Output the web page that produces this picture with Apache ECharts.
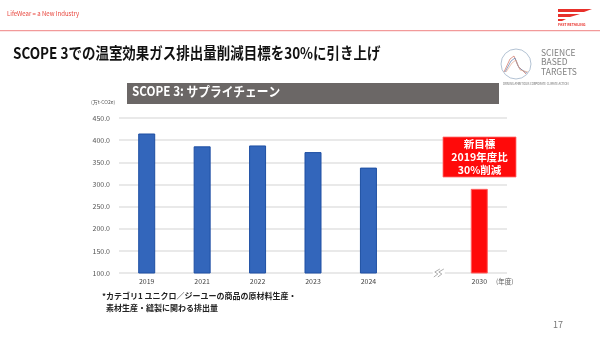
<!DOCTYPE html>
<html><head><meta charset="utf-8">
<script src="https://cdn.jsdelivr.net/npm/echarts@6/dist/echarts.min.js"></script>
<style>html,body{margin:0;padding:0;background:#fff}#c{width:600px;height:341px}</style>
</head><body><div id="c"></div>
<script>
const categories = ['2019','2021','2022','2023','2024','','2030'];
const actualValues = [415, 386, 388, 373, 338, null, null];
const targetValues = [null, null, null, null, null, null, 290];
const yTicks = [100, 450, 50];
const FONT = '"Noto Sans CJK JP","Noto Sans",sans-serif';

const chart = echarts.init(document.getElementById('c'), null, {renderer:'canvas'});
chart.setOption({
  animation:false,
  backgroundColor:'#fff',
  grid:{left:119, right:93, top:118, bottom:68},
  xAxis:{type:'category', data:categories,
    axisLine:{show:false}, axisTick:{show:false},
    axisLabel:{fontSize:7, color:'#444', margin:5, fontFamily:FONT}},
  yAxis:{type:'value', min:yTicks[0], max:yTicks[1], interval:yTicks[2],
    axisLine:{show:false}, axisTick:{show:false},
    splitLine:{lineStyle:{color:'#e2e2e2', width:1.5}},
    axisLabel:{fontSize:7, color:'#555', margin:9, fontFamily:FONT,
      formatter:v=>v.toFixed(1)}},
  series:[
    {type:'bar', data:actualValues, barWidth:17, barGap:'-100%',
      itemStyle:{color:'#3366bb', borderColor:'#1e4fa3', borderWidth:1}},
    {type:'bar', data:targetValues, barWidth:17,
      itemStyle:{color:'#ff0a0a', borderColor:'#ff6060', borderWidth:1}}
  ]
});
// axis break mark placed between the empty slot and 2030 using the library's scale
const p5 = chart.convertToPixel({gridIndex:0}, [5, yTicks[0]]);
const p6 = chart.convertToPixel({gridIndex:0}, [6, yTicks[0]]);
const bx = p5[0] + (p6[0]-p5[0])*0.27, by = p5[1];

chart.setOption({graphic:[
  {type:'text', left:7, top:11, style:{text:'LifeWear = a New Industry', fill:'#e8453c', font:'6px '+FONT}},
  {type:'rect', shape:{x:0,y:30,width:600,height:1.2}, style:{fill:'#f29a9a'}},
  {type:'polygon', shape:{points:[[558,9],[592,9],[584,12],[558,12]]}, style:{fill:'#e8302a'}},
  {type:'polygon', shape:{points:[[558,14],[580,14],[570,17],[558,17]]}, style:{fill:'#e8302a'}},
  {type:'polygon', shape:{points:[[558,19],[566,19],[562,21],[558,21]]}, style:{fill:'#e8302a'}},
  {type:'text', left:558, top:23, style:{text:'FAST RETAILING', fill:'#e8302a', font:'bold 3.5px '+FONT}},
  {type:'text', x:13, y:45, scaleX:0.87, style:{text:'SCOPE 3での温室効果ガス排出量削減目標を30%に引き上げ', fill:'#111', font:'bold 15.5px '+FONT}},
  {type:'circle', shape:{cx:516,cy:64,r:15}, style:{fill:'none', stroke:'#9fb3c8', lineWidth:0.8}},
  {type:'polyline', shape:{points:[[504,72],[510,59],[514,56],[518,66],[526,74]]}, style:{stroke:'#d07060', fill:'none', lineWidth:0.7}},
  {type:'polyline', shape:{points:[[505,72],[511,61],[515,58],[519,68],[527,73]]}, style:{stroke:'#6080b0', fill:'none', lineWidth:0.7}},
  {type:'polyline', shape:{points:[[506,72],[512,63],[516,60],[520,70],[528,72]]}, style:{stroke:'#e0a080', fill:'none', lineWidth:0.6}},
  {type:'text', left:541, top:48, style:{text:'SCIENCE\nBASED\nTARGETS', fill:'#808080', font:'8.5px '+FONT, lineHeight:9.5}},
  {type:'text', left:503, top:83, style:{text:'DRIVING AMBITIOUS CORPORATE CLIMATE ACTION', fill:'#666', font:'2.8px '+FONT}},
  {type:'rect', shape:{x:127,y:83,width:372,height:21}, style:{fill:'#6b6766'}},
  {type:'text', x:132, y:85, scaleX:0.9, style:{text:'SCOPE 3: サプライチェーン', fill:'#fff', font:'bold 13px '+FONT}},
  {type:'text', left:91, top:100, style:{text:'(万t-CO2e)', fill:'#555', font:'5px '+FONT}},
  {type:'rect', shape:{x:443,y:137,width:73,height:40}, style:{fill:'#ff0a0a', stroke:'#ff7070', lineWidth:0.8}},
  {type:'text', x:479.5, y:138, style:{text:'新目標\n2019年度比\n30%削減', fill:'#fff', font:'bold 10.5px '+FONT, align:'center', lineHeight:13}},
  {type:'text', left:496, top:278, style:{text:'(年度)', fill:'#555', font:'6.5px '+FONT}},
  {type:'text', left:102, top:292, style:{text:'*カテゴリ1 ユニクロ／ジーユーの商品の原材料生産・', fill:'#222', font:'bold 8px '+FONT}},
  {type:'text', left:106, top:304, style:{text:'素材生産・縫製に関わる排出量', fill:'#222', font:'bold 8px '+FONT}},
  {type:'text', left:553, top:320, style:{text:'17', fill:'#777', font:'9px '+FONT}},
  {type:'rect', shape:{x:bx-6,y:by-5,width:12,height:10}, style:{fill:'#fff'}},
  {type:'polyline', shape:{points:[[bx-5,by+4],[bx-1,by+1],[bx-4,by-1],[bx+1,by-4]]}, style:{stroke:'#999', fill:'none', lineWidth:0.8}},
  {type:'polyline', shape:{points:[[bx-1,by+4],[bx+3,by+1],[bx,by-1],[bx+5,by-4]]}, style:{stroke:'#999', fill:'none', lineWidth:0.8}}
]});
</script></body></html>
